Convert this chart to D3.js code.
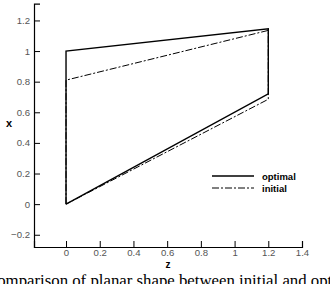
<!DOCTYPE html>
<html>
<head>
<meta charset="utf-8">
<script src="https://cdn.jsdelivr.net/npm/d3@7"></script>
<style>
  body { margin: 0; background: #fff; }
  svg { display: block; }
</style>
</head>
<body>
<svg id="chart" width="330" height="284"></svg>
<script>
// planar shape outlines, (z, x) pairs
var optimalZ = [0, 0, 1.2, 1.2, 0];
var optimalX = [0, 1.0, 1.145, 0.72, 0];
var initialZ = [0, 0, 1.2, 1.2, 0];
var initialX = [0, 0.81, 1.135, 0.685, 0];
var zTicks = [0, 0.2, 0.4, 0.6, 0.8, 1, 1.2, 1.4];
var xTicks = [-0.2, 0, 0.2, 0.4, 0.6, 0.8, 1, 1.2];
var seriesNames = ["optimal", "initial"];

var svg = d3.select("#chart");

var zScale = d3.scaleLinear().domain([-0.19, 1.4]).range([34, 302]);
var xScale = d3.scaleLinear().domain([-0.28, 1.31]).range([247, 3.6]);

var minorZ = d3.range(-0.15, 1.4001, 0.05);
var minorX = d3.range(-0.25, 1.3001, 0.05);

// bottom axis, ticks pointing up
var gBottom = svg.append("g").attr("transform", "translate(0," + xScale.range()[0] + ")");
gBottom.call(d3.axisBottom(zScale).tickValues(minorZ).tickSize(-3).tickFormat(""));
gBottom.call(d3.axisBottom(zScale).tickValues(zTicks).tickSize(-6).tickPadding(2.5)
    .tickFormat(function(d) { return d3.format("")(+d.toFixed(1)); }));

// left axis, ticks pointing right
var gLeft = svg.append("g").attr("transform", "translate(" + zScale.range()[0] + ",0)");
gLeft.call(d3.axisLeft(xScale).tickValues(minorX).tickSize(-3).tickFormat(""));
gLeft.call(d3.axisLeft(xScale).tickValues(xTicks).tickSize(-6).tickPadding(4)
    .tickFormat(function(d) { return d3.format("")(+d.toFixed(1)); }));

svg.selectAll(".domain").attr("stroke", "#000").attr("stroke-width", 1.2);
svg.selectAll(".tick line").attr("stroke", "#000");
svg.selectAll(".tick text")
    .attr("font-family", "Arial, 'Liberation Sans', sans-serif")
    .attr("font-size", 9.6)
    .attr("fill", "#555");

// axis titles
svg.append("text").attr("x", 168).attr("y", 267.5)
    .attr("text-anchor", "middle")
    .attr("font-family", "Arial, 'Liberation Sans', sans-serif")
    .attr("font-weight", "bold").attr("font-size", 10).text("z");
svg.append("text").attr("x", 9).attr("y", 127)
    .attr("text-anchor", "middle")
    .attr("font-family", "Arial, 'Liberation Sans', sans-serif")
    .attr("font-weight", "bold").attr("font-size", 11).text("x");

var line = d3.line()
    .x(function(d) { return zScale(d[0]); })
    .y(function(d) { return xScale(d[1]); });

svg.append("path")
    .datum(d3.zip(initialZ, initialX))
    .attr("d", line)
    .attr("fill", "none")
    .attr("stroke", "#000")
    .attr("stroke-width", 1)
    .attr("stroke-dasharray", "7,2,2,2");

svg.append("path")
    .datum(d3.zip(optimalZ, optimalX))
    .attr("d", line)
    .attr("fill", "none")
    .attr("stroke", "#000")
    .attr("stroke-width", 1.4);

// legend
var legend = svg.append("g");
seriesNames.forEach(function(name, i) {
    var y = 176 + i * 12;
    legend.append("line")
        .attr("x1", 212).attr("x2", 254).attr("y1", y).attr("y2", y)
        .attr("stroke", "#000")
        .attr("stroke-width", i === 0 ? 1.4 : 1)
        .attr("stroke-dasharray", i === 0 ? null : "7,2,2,2");
    legend.append("text")
        .attr("x", 262).attr("y", y + 3.5)
        .attr("font-family", "Arial, 'Liberation Sans', sans-serif")
        .attr("font-weight", "bold").attr("font-size", 9.5)
        .text(name);
});

// figure caption (cut off by the frame)
svg.append("text")
    .attr("x", -14).attr("y", 286)
    .attr("font-family", "'Liberation Serif', 'Times New Roman', serif")
    .attr("font-size", 16.8)
    .text("Comparison of planar shape between initial and optimal");
</script>
</body>
</html>
